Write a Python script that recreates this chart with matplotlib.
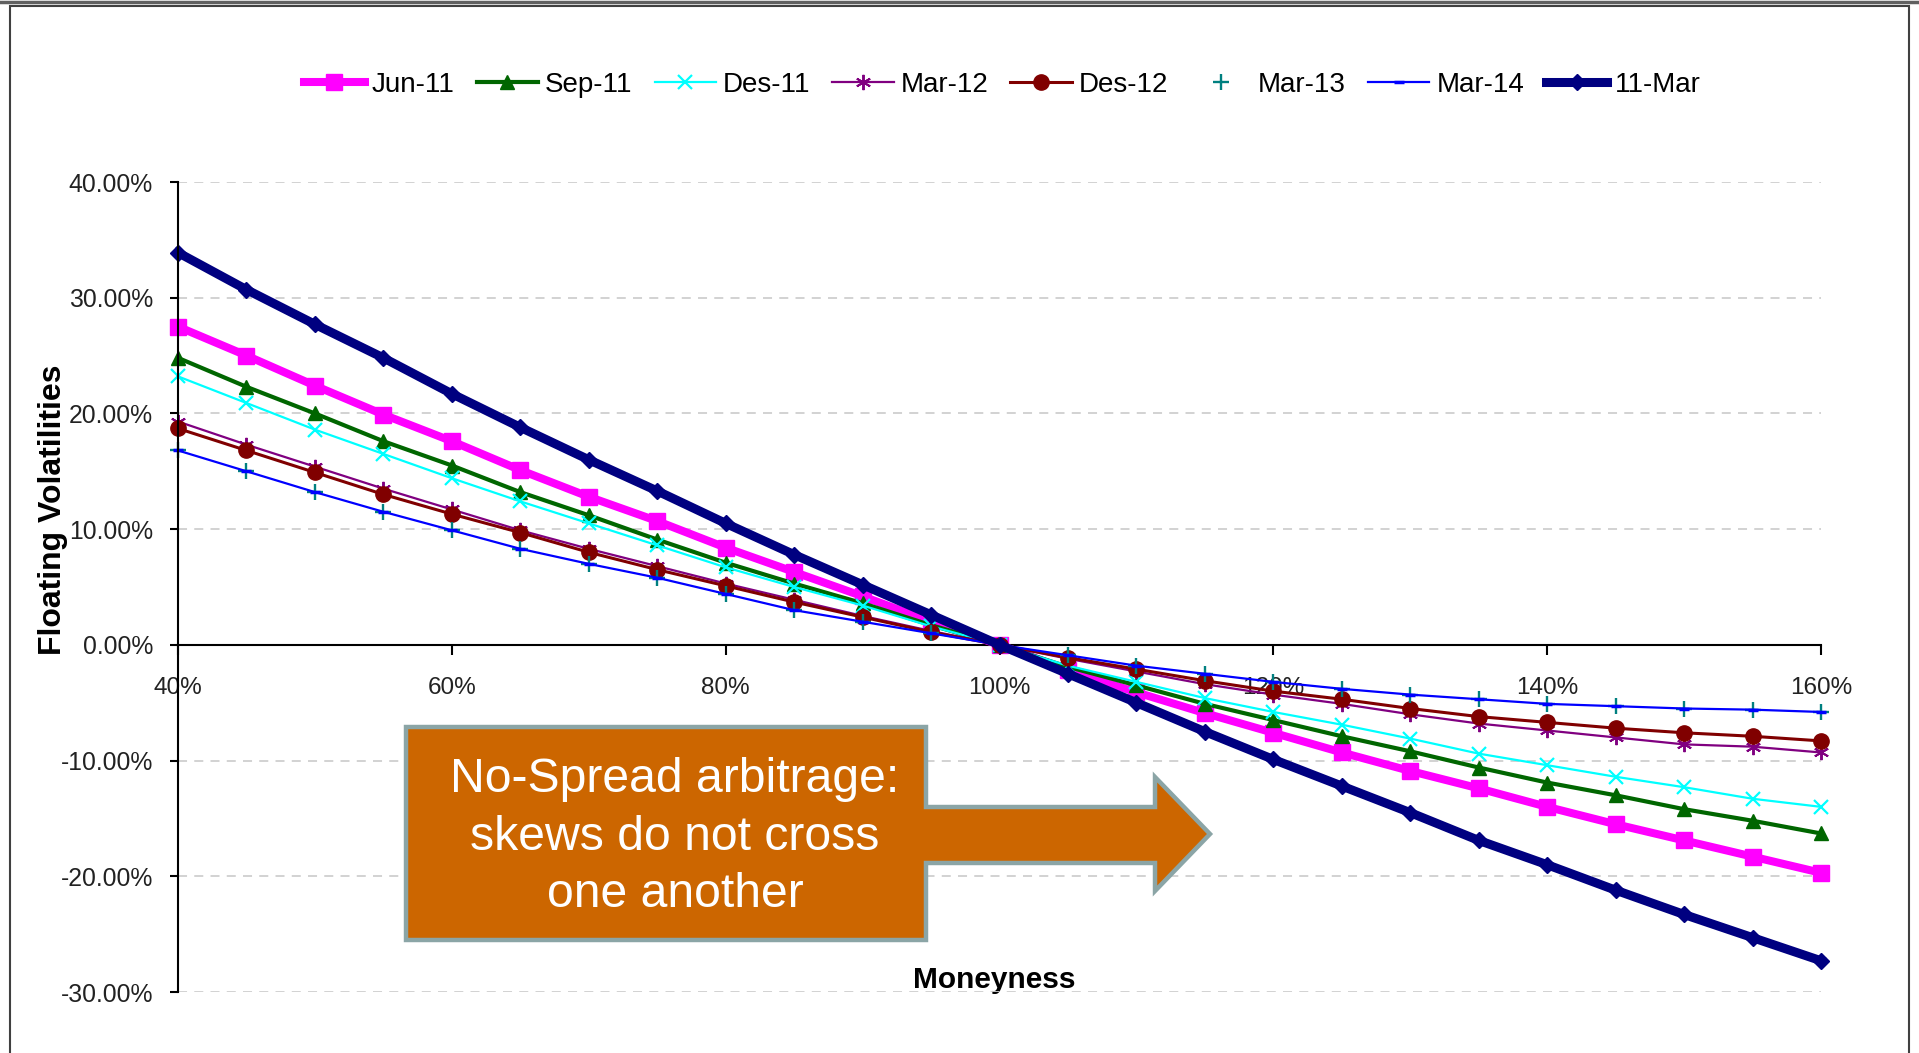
import matplotlib
matplotlib.use("Agg")
import matplotlib.pyplot as plt
from matplotlib.patches import Polygon, Rectangle
from matplotlib.ticker import FuncFormatter, MultipleLocator

plt.rcParams['font.family'] = ['Liberation Sans', 'DejaVu Sans']

moneyness = [40, 45, 50, 55, 60, 65, 70, 75, 80, 85, 90, 95, 100,
             105, 110, 115, 120, 125, 130, 135, 140, 145, 150, 155, 160]

jun11 = [27.5, 25.0, 22.4, 19.9, 17.6, 15.1, 12.8, 10.7, 8.4, 6.3, 4.2, 2.0, 0.0,
         -2.2, -4.1, -5.9, -7.6, -9.3, -10.9, -12.4, -14.0, -15.5, -16.9, -18.3, -19.7]
sep11 = [24.8, 22.3, 20.0, 17.6, 15.5, 13.2, 11.2, 9.1, 7.1, 5.3, 3.6, 1.7, 0.0,
         -1.9, -3.5, -5.1, -6.5, -7.9, -9.2, -10.6, -11.9, -13.0, -14.2, -15.2, -16.3]
des11 = [23.2, 20.9, 18.6, 16.5, 14.4, 12.4, 10.5, 8.6, 6.7, 5.0, 3.4, 1.6, 0.0,
         -1.8, -3.2, -4.6, -5.8, -6.9, -8.1, -9.4, -10.4, -11.4, -12.3, -13.3, -14.0]
mar12 = [19.3, 17.3, 15.4, 13.5, 11.7, 9.9, 8.3, 6.8, 5.3, 3.9, 2.5, 1.2, 0.0,
         -1.2, -2.3, -3.4, -4.3, -5.1, -6.0, -6.8, -7.4, -8.0, -8.6, -8.8, -9.3]
des12 = [18.7, 16.8, 14.9, 13.0, 11.3, 9.7, 8.0, 6.5, 5.1, 3.7, 2.4, 1.1, 0.0,
         -1.1, -2.1, -3.1, -4.0, -4.7, -5.5, -6.2, -6.7, -7.2, -7.6, -7.9, -8.3]
mar13 = [16.8, 15.0, 13.2, 11.5, 9.9, 8.3, 7.0, 5.8, 4.4, 3.0, 2.0, 1.0, 0.0,
         -0.9, -1.8, -2.5, -3.2, -3.8, -4.3, -4.7, -5.1, -5.3, -5.5, -5.6, -5.8]
mar14 = [16.8, 15.0, 13.2, 11.5, 9.9, 8.3, 7.0, 5.8, 4.4, 3.0, 2.0, 1.0, 0.0,
         -0.9, -1.8, -2.5, -3.2, -3.8, -4.3, -4.7, -5.1, -5.3, -5.5, -5.6, -5.8]
mar11 = [33.9, 30.7, 27.7, 24.8, 21.7, 18.8, 16.0, 13.3, 10.5, 7.8, 5.2, 2.6, 0.0,
         -2.5, -5.0, -7.5, -9.9, -12.2, -14.5, -16.9, -19.0, -21.2, -23.3, -25.3, -27.3]

series_names = ["Jun-11", "Sep-11", "Des-11", "Mar-12", "Des-12", "Mar-13", "Mar-14", "11-Mar"]

W, H = 1919, 1053
fig = plt.figure(figsize=(W / 100, H / 100), dpi=100)
fig.patch.set_facecolor('white')

ax_l, ax_r, ax_t, ax_b = 178, 1821, 182, 992
ax = fig.add_axes([ax_l / W, 1 - ax_b / H, (ax_r - ax_l) / W, (ax_b - ax_t) / H])

styles = [
    dict(color='#FF00FF', lw=5.8, marker='s', ms=11.5, mec='#FF00FF', mfc='#FF00FF'),
    dict(color='#006600', lw=3.0, marker='^', ms=10, mec='#006600', mfc='#006600'),
    dict(color='#00FFFF', lw=1.6, marker='x', ms=10, mew=1.6, mec='#00FFFF'),
    dict(color='#800080', lw=1.6, marker=(6, 2, 0), ms=11, mew=1.4, mec='#800080'),
    dict(color='#800000', lw=2.2, marker='o', ms=11, mec='#800000', mfc='#800000'),
    dict(color='#008080', lw=0, ls='none', marker='+', ms=12, mew=1.7, mec='#008080'),
    dict(color='#0000FF', lw=1.6, marker='_', ms=7, mew=2.5, mec='#0000FF'),
    dict(color='#000080', lw=6.5, marker='D', ms=8.5, mec='#000080', mfc='#000080'),
]
data = [jun11, sep11, des11, mar12, des12, mar13, mar14, mar11]
for name, vals, st in zip(series_names, data, styles):
    ax.plot(moneyness, vals, label=name, solid_joinstyle='round', clip_on=False, **st)

ax.set_xlim(40, 160)
ax.set_ylim(-30, 40)
ax.xaxis.set_major_locator(MultipleLocator(20))
ax.yaxis.set_major_locator(MultipleLocator(10))
ax.xaxis.set_major_formatter(FuncFormatter(lambda v, p: f"{v:.0f}%"))
ax.yaxis.set_major_formatter(FuncFormatter(lambda v, p: f"{v:.2f}%"))

ax.grid(axis='y', color='#CFCFCF', linestyle=(0, (5, 4)), linewidth=1.3)
ax.set_axisbelow(True)
ax.spines['top'].set_visible(False)
ax.spines['right'].set_visible(False)
ax.spines['bottom'].set_position(('data', 0))
ax.spines['bottom'].set_linewidth(1.5)
ax.spines['left'].set_linewidth(1.5)
ax.spines['bottom'].set_zorder(1.5)
ax.tick_params(axis='x', direction='out', length=7, width=1.5, pad=16,
               labelsize=17.5, labelcolor='#222222')
ax.tick_params(axis='y', direction='out', length=6, width=1.5, pad=12,
               labelsize=17.8, labelcolor='#222222')

ax.set_ylabel("Floating Volatilities", fontsize=23, fontweight='bold')
ax.yaxis.set_label_coords((68 - ax_l) / (ax_r - ax_l), (ax_b - 510) / (ax_b - ax_t))
ax.set_xlabel("Moneyness", fontsize=21.5, fontweight='bold')
ax.xaxis.set_label_coords((994 - ax_l) / (ax_r - ax_l), (ax_b - 966) / (ax_b - ax_t))

fig.legend(loc='center', bbox_to_anchor=(1002 / W, 1 - 85 / H), ncol=8, frameon=False,
           numpoints=1, handlelength=2.2, handletextpad=0.25, columnspacing=0.8,
           prop=dict(family='Liberation Sans', size=20))

# callout arrow
pts_px = [(406, 727), (926, 727), (926, 807), (1155, 807), (1155, 777), (1210, 834),
          (1155, 891), (1155, 863), (926, 863), (926, 940), (406, 940)]
poly = Polygon([(x / W, 1 - y / H) for x, y in pts_px], closed=True,
               transform=fig.transFigure, facecolor='#CC6600', edgecolor='#8BA5A6',
               linewidth=3.2, joinstyle='miter', zorder=10)
fig.patches.append(poly)
fig.text(675 / W, 1 - 837 / H, "No-Spread arbitrage:\nskews do not cross\none another",
         ha='center', va='center', color='white', fontsize=34.7, linespacing=1.35, zorder=11)

# slide frame
frame = Rectangle((10 / W, -0.05), (1909 - 10) / W, 1.05 - 6 / H,
                  transform=fig.transFigure, fill=False, edgecolor='#404040', linewidth=1.5)
fig.patches.append(frame)
fig.add_artist(plt.Line2D([0, 1], [1 - 1.5 / H, 1 - 1.5 / H], transform=fig.transFigure,
                          color='#606060', linewidth=2.5))

fig.savefig("out.png", dpi=100, facecolor='white')
